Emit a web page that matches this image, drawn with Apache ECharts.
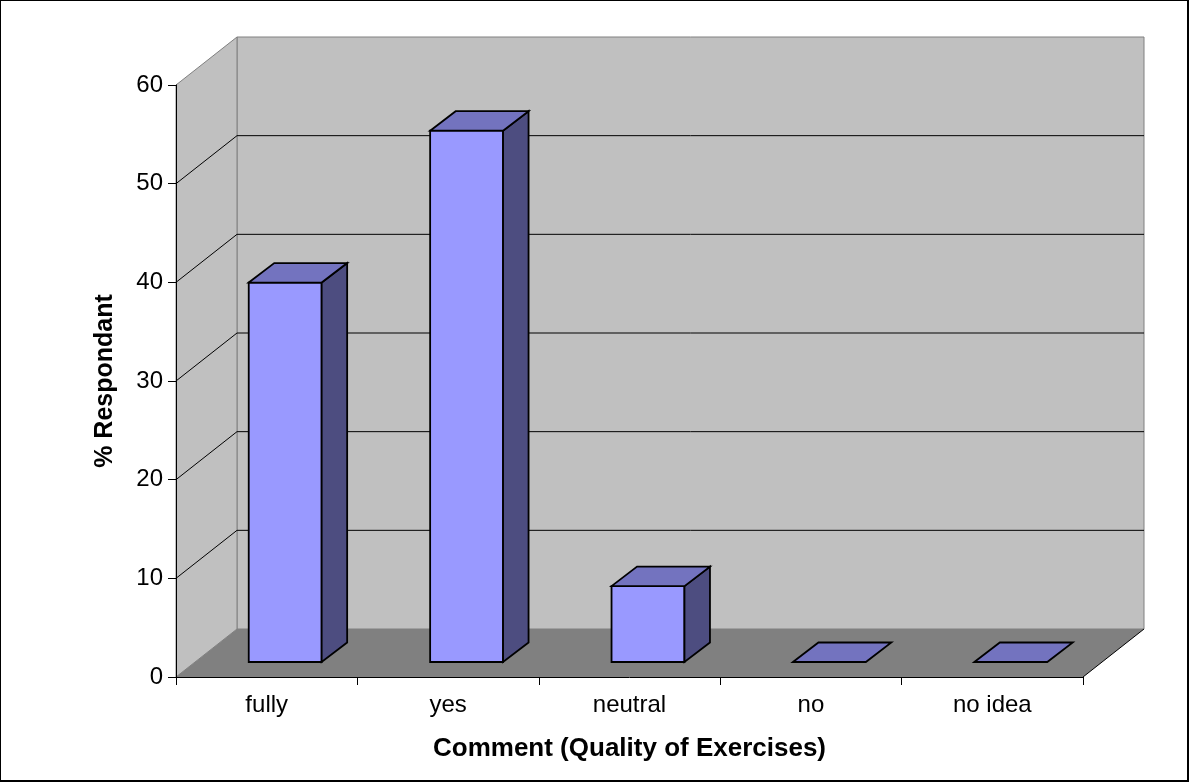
<!DOCTYPE html>
<html>
<head>
<meta charset="utf-8">
<script src="https://cdn.jsdelivr.net/npm/echarts@6/dist/echarts.min.js"></script>
<style>
html,body{margin:0;padding:0;background:#fff;}
#c{width:1189px;height:782px;}
</style>
</head>
<body>
<div id="c"></div>
<script>
const categories = ['fully', 'yes', 'neutral', 'no', 'no idea'];
const respondentPct = [38.46, 53.85, 7.69, 0, 0];
const yTickValues = [0, 10, 20, 30, 40, 50, 60];
const xTitle = 'Comment (Quality of Exercises)';
const yTitle = '% Respondant';

const FONT = '"Liberation Sans", Arial, sans-serif';
// 3D depth projection (pixels) of the full floor depth
const DX = 61, DY = -48;
// bar placement within the depth
const BOX = 18.5, BOY = -15, BDX = 25.5, BDY = -19.5;

const chart = echarts.init(document.getElementById('c'), null, {renderer: 'canvas'});

function wallsRender(params, api) {
  const cs = params.coordSys;
  const L = cs.x, R = cs.x + cs.width;
  const B = api.coord([0, yTickValues[0]])[1];
  const T = api.coord([0, yTickValues[yTickValues.length - 1]])[1];
  const ch = [];
  // back wall
  ch.push({type: 'polygon', shape: {points: [[L + DX, T + DY], [R + DX, T + DY], [R + DX, B + DY], [L + DX, B + DY]]},
    style: {fill: '#C0C0C0', stroke: '#808080', lineWidth: 1}});
  // left wall
  ch.push({type: 'polygon', shape: {points: [[L, T], [L + DX, T + DY], [L + DX, B + DY], [L, B]]},
    style: {fill: '#C0C0C0', stroke: '#808080', lineWidth: 1}});
  // floor
  ch.push({type: 'polygon', shape: {points: [[L, B], [R, B], [R + DX, B + DY], [L + DX, B + DY]]},
    style: {fill: '#808080', stroke: null}});
  ch.push({type: 'line', shape: {x1: R, y1: B, x2: R + DX, y2: B + DY}, style: {stroke: '#000', lineWidth: 1}});
  // gridlines
  for (let k = 1; k < yTickValues.length - 1; k++) {
    const y = api.coord([0, yTickValues[k]])[1];
    ch.push({type: 'line', shape: {x1: L + DX, y1: y + DY, x2: R + DX, y2: y + DY}, style: {stroke: '#000', lineWidth: 1}});
    ch.push({type: 'line', shape: {x1: L, y1: y, x2: L + DX, y2: y + DY}, style: {stroke: '#000', lineWidth: 1}});
  }
  return {type: 'group', children: ch};
}

function barRender(params, api) {
  const i = api.value(0), v = api.value(1);
  const base = api.coord([i, 0]);
  const top = api.coord([i, v]);
  const bw = api.size([1, 0])[0] * 0.402;
  const x0 = base[0] - bw / 2 + BOX, x1 = x0 + bw;
  const yb = base[1] + BOY, yt = top[1] + BOY;
  const st = {stroke: '#000', lineWidth: 1.8, lineJoin: 'miter'};
  const ch = [];
  if (yb - yt > 0.5) {
    ch.push({type: 'polygon', shape: {points: [[x0, yt], [x1, yt], [x1, yb], [x0, yb]]},
      style: Object.assign({fill: '#9999FF'}, st)});
    ch.push({type: 'polygon', shape: {points: [[x1, yt], [x1 + BDX, yt + BDY], [x1 + BDX, yb + BDY], [x1, yb]]},
      style: Object.assign({fill: '#4D4D80'}, st)});
  }
  ch.push({type: 'polygon', shape: {points: [[x0, yt], [x0 + BDX, yt + BDY], [x1 + BDX, yt + BDY], [x1, yt]]},
    style: Object.assign({fill: '#7373BF'}, st)});
  return {type: 'group', children: ch};
}

const option = {
  animation: false,
  backgroundColor: '#fff',
  textStyle: {fontFamily: FONT},
  grid: {left: 176, top: 85, width: 907, height: 592, containLabel: false},
  xAxis: {
    type: 'category', data: categories, boundaryGap: true, z: 10,
    axisLine: {show: true, lineStyle: {color: '#000', width: 1}},
    axisTick: {show: true, length: 8, interval: 0, lineStyle: {color: '#000'}},
    axisLabel: {fontSize: 24, color: '#000', margin: 16, interval: 0, fontFamily: FONT},
    splitLine: {show: false},
    name: xTitle, nameLocation: 'middle', nameGap: 59, nameMoveOverlap: false,
    nameTextStyle: {fontSize: 26, fontWeight: 'bold', color: '#000', fontFamily: FONT}
  },
  yAxis: {
    type: 'value', min: 0, max: 60, interval: 10, z: 10,
    axisLine: {show: true, lineStyle: {color: '#000', width: 1}},
    axisTick: {show: true, length: 8, lineStyle: {color: '#000'}},
    axisLabel: {fontSize: 24, color: '#000', margin: 13, fontFamily: FONT},
    splitLine: {show: false},
    name: yTitle, nameLocation: 'middle', nameRotate: 90, nameGap: 58, nameMoveOverlap: false,
    nameTextStyle: {fontSize: 25, fontWeight: 'bold', color: '#000', fontFamily: FONT}
  },
  graphic: [{type: 'rect', z: 100, silent: true, shape: {x: 0, y: 0, width: 1188, height: 781},
    style: {fill: 'none', stroke: '#000', lineWidth: 2}}],
  series: [
    {type: 'custom', name: 'walls', silent: true, z: 1, renderItem: wallsRender, data: [[0, 0]], encode: {x: 0, y: 1}},
    {type: 'custom', name: '% Respondant', silent: true, z: 2, renderItem: barRender,
      data: respondentPct.map((v, i) => [i, v]), encode: {x: 0, y: 1}}
  ]
};
chart.setOption(option);
</script>
</body>
</html>
